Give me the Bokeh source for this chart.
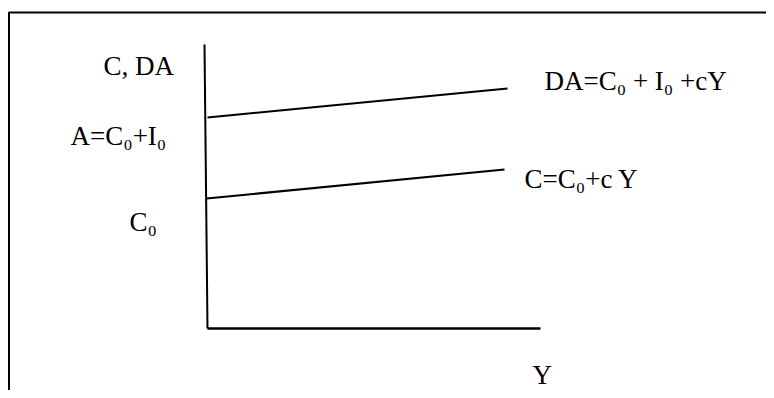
from bokeh.plotting import figure
from bokeh.models import Range1d, ColumnDataSource
from bokeh.core.properties import value
from bokeh.embed import file_html
from bokeh.resources import INLINE

# Diagram values (origin at the axis corner)
da_x = [0, 300]
da_y = [211, 240]
c_x = [-1, 297]
c_y = [130, 159]
yaxis_x = [-3, 0]
yaxis_y = [284, 0]
xaxis_x = [0, 333]
xaxis_y = [0, 0]

label_text = ["C, DA", "A=C\u2080+I\u2080", "C\u2080", "DA=C\u2080  + I\u2080 +cY", "C=C\u2080+c Y", "Y"]
label_x = [-104, -137, -78, 337, 317, 325]
label_y = [263, 193, 107, 248, 150, -46]

p = figure(width=766, height=390, output_backend="svg", toolbar_location=None,
           x_range=Range1d(-207, 559), y_range=Range1d(-62, 328),
           min_border=0, outline_line_color=None)
p.xaxis.visible = False
p.yaxis.visible = False
p.xgrid.visible = False
p.ygrid.visible = False
p.background_fill_color = "white"
p.border_fill_color = "white"

# frame of the figure box (top and left edges visible)
p.line([-198.5, -198.5, 600], [-100, 316, 316], line_color="black", line_width=2)

# axes
p.line(yaxis_x, yaxis_y, line_color="black", line_width=2)
p.line(xaxis_x, xaxis_y, line_color="black", line_width=2.5)

# functions
p.line(da_x, da_y, line_color="black", line_width=2)
p.line(c_x, c_y, line_color="black", line_width=2)

src = ColumnDataSource(dict(x=label_x, y=label_y, t=label_text))
p.text(x="x", y="y", text="t", source=src, text_font=value("Liberation Serif"),
       text_font_size=value("27px"), text_color="black",
       text_align="left", text_baseline="alphabetic")

open("out.html", "w").write(file_html(p, INLINE))
